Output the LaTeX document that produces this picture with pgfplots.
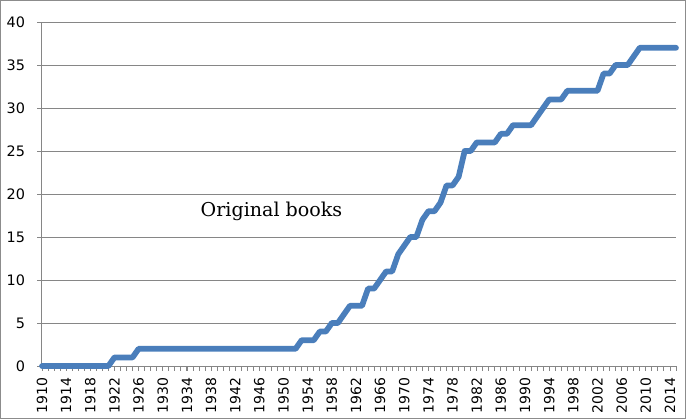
\documentclass[border=0pt]{standalone}
\usepackage{pgfplots}
\pgfplotsset{compat=1.18}
\usepackage{fontspec}
\setmainfont{DejaVu Sans}
\newfontfamily\labelserif{DejaVu Serif}
\definecolor{lineblue}{HTML}{4A7EBB}
\definecolor{gridgray}{HTML}{868686}
\definecolor{framegray}{HTML}{8C8C8C}
\begin{document}
\begin{tikzpicture}
\useasboundingbox (0,0) rectangle (514.5pt,314.25pt);
\draw[framegray, line width=0.9pt] (0.6pt,0.6pt) rectangle (513.9pt,313.65pt);
\begin{axis}[
  at={(31.5pt,39.75pt)}, anchor=south west,
  scale only axis, width=475.5pt, height=258pt,
  xmin=1910, xmax=2015, ymin=0, ymax=40,
  clip=false,
  axis lines*=left,
  axis line style={gridgray, line width=0.75pt},
  ytick={0,5,...,40},
  xtick={1910,1914,...,2014},
  minor xtick={1910,...,2015},
  ymajorgrids,
  major grid style={gridgray, line width=0.75pt},
  tick style={gridgray, line width=0.6pt},
  tick align=outside,
  major tick length=3.5pt, minor tick length=3.5pt,
  /pgf/number format/assume math mode=true,
  /pgf/number format/1000 sep={},
  xticklabel style={rotate=90, anchor=east, inner sep=0pt, font=\fontsize{10.5}{10}\selectfont},
  yticklabel style={anchor=east, inner sep=0pt, font=\fontsize{10.8}{10}\selectfont},
  xticklabel shift=5.3pt,
  yticklabel shift=9pt,
]
\addplot[lineblue, line width=4.3pt, line join=round, line cap=round, mark=none] table {
x y
1910 0
1911 0
1912 0
1913 0
1914 0
1915 0
1916 0
1917 0
1918 0
1919 0
1920 0
1921 0
1922 1
1923 1
1924 1
1925 1
1926 2
1927 2
1928 2
1929 2
1930 2
1931 2
1932 2
1933 2
1934 2
1935 2
1936 2
1937 2
1938 2
1939 2
1940 2
1941 2
1942 2
1943 2
1944 2
1945 2
1946 2
1947 2
1948 2
1949 2
1950 2
1951 2
1952 2
1953 3
1954 3
1955 3
1956 4
1957 4
1958 5
1959 5
1960 6
1961 7
1962 7
1963 7
1964 9
1965 9
1966 10
1967 11
1968 11
1969 13
1970 14
1971 15
1972 15
1973 17
1974 18
1975 18
1976 19
1977 21
1978 21
1979 22
1980 25
1981 25
1982 26
1983 26
1984 26
1985 26
1986 27
1987 27
1988 28
1989 28
1990 28
1991 28
1992 29
1993 30
1994 31
1995 31
1996 31
1997 32
1998 32
1999 32
2000 32
2001 32
2002 32
2003 34
2004 34
2005 35
2006 35
2007 35
2008 36
2009 37
2010 37
2011 37
2012 37
2013 37
2014 37
2015 37
};
\node[font=\labelserif\fontsize{14.3}{15}\selectfont] at (axis cs:1948,18) {Original books};
\end{axis}
\end{tikzpicture}
\end{document}
